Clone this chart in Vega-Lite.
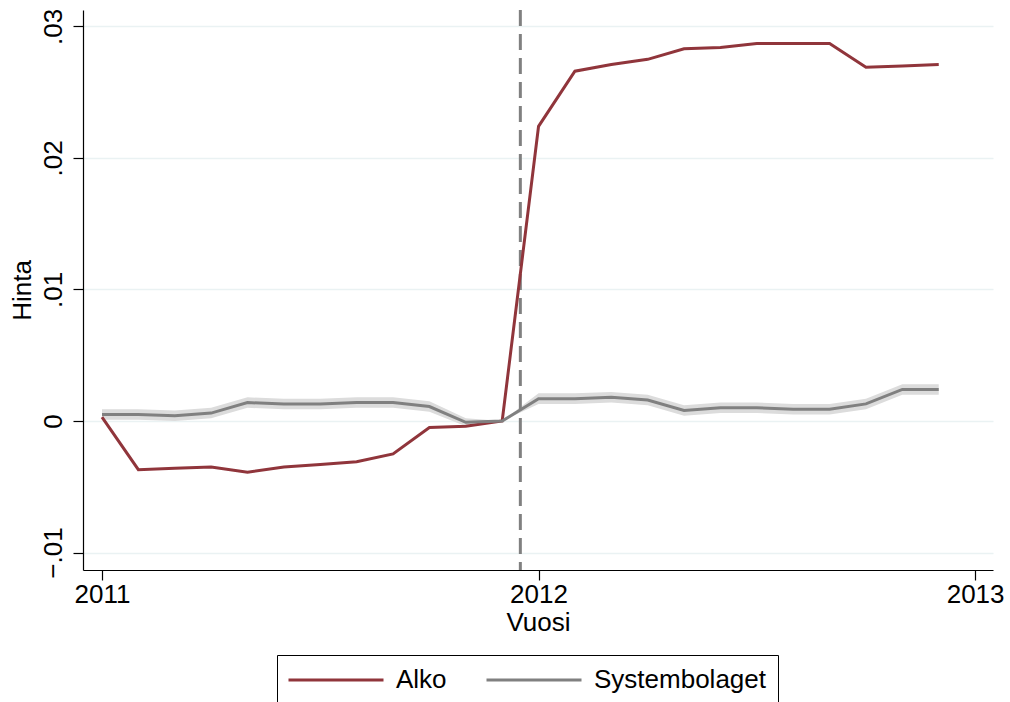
{
  "$schema": "https://vega.github.io/schema/vega-lite/v6.json",
  "width": 910,
  "height": 560,
  "autosize": {"type": "none"},
  "padding": {"left": 83, "top": 10, "right": 17, "bottom": 132},
  "background": "white",
  "config": {
    "view": {"stroke": null},
    "font": "Liberation Sans",
    "axis": {
      "labelFont": "Liberation Sans",
      "titleFont": "Liberation Sans",
      "labelFontSize": 26,
      "titleFontSize": 26,
      "titleFontWeight": "normal",
      "labelColor": "#000000",
      "titleColor": "#000000",
      "domainColor": "#000000",
      "tickColor": "#000000",
      "domainWidth": 1.2,
      "tickWidth": 1.2,
      "tickSize": 10,
      "labelOverlap": false
    }
  },
  "datasets": {
    "series": [
      {"t": 2011.0, "series": "Alko", "value": 0.0003},
      {"t": 2011.0833, "series": "Alko", "value": -0.0037},
      {"t": 2011.1667, "series": "Alko", "value": -0.0036},
      {"t": 2011.25, "series": "Alko", "value": -0.0035},
      {"t": 2011.3333, "series": "Alko", "value": -0.0039},
      {"t": 2011.4167, "series": "Alko", "value": -0.0035},
      {"t": 2011.5, "series": "Alko", "value": -0.0033},
      {"t": 2011.5833, "series": "Alko", "value": -0.0031},
      {"t": 2011.6667, "series": "Alko", "value": -0.0025},
      {"t": 2011.75, "series": "Alko", "value": -0.0005},
      {"t": 2011.8333, "series": "Alko", "value": -0.0004},
      {"t": 2011.9167, "series": "Alko", "value": 0.0},
      {"t": 2012.0, "series": "Alko", "value": 0.0224},
      {"t": 2012.0833, "series": "Alko", "value": 0.0266},
      {"t": 2012.1667, "series": "Alko", "value": 0.0271},
      {"t": 2012.25, "series": "Alko", "value": 0.0275},
      {"t": 2012.3333, "series": "Alko", "value": 0.0283},
      {"t": 2012.4167, "series": "Alko", "value": 0.0284},
      {"t": 2012.5, "series": "Alko", "value": 0.0287},
      {"t": 2012.5833, "series": "Alko", "value": 0.0287},
      {"t": 2012.6667, "series": "Alko", "value": 0.0287},
      {"t": 2012.75, "series": "Alko", "value": 0.0269},
      {"t": 2012.8333, "series": "Alko", "value": 0.0270},
      {"t": 2012.9167, "series": "Alko", "value": 0.0271},
      {"t": 2011.0, "series": "Systembolaget", "value": 0.0005, "lo": 0.0001, "hi": 0.0009},
      {"t": 2011.0833, "series": "Systembolaget", "value": 0.0005, "lo": 0.0001, "hi": 0.0009},
      {"t": 2011.1667, "series": "Systembolaget", "value": 0.0004, "lo": 0.0, "hi": 0.0008},
      {"t": 2011.25, "series": "Systembolaget", "value": 0.0006, "lo": 0.0002, "hi": 0.001},
      {"t": 2011.3333, "series": "Systembolaget", "value": 0.0014, "lo": 0.001, "hi": 0.0018},
      {"t": 2011.4167, "series": "Systembolaget", "value": 0.0013, "lo": 0.0009, "hi": 0.0017},
      {"t": 2011.5, "series": "Systembolaget", "value": 0.0013, "lo": 0.0009, "hi": 0.0017},
      {"t": 2011.5833, "series": "Systembolaget", "value": 0.0014, "lo": 0.001, "hi": 0.0018},
      {"t": 2011.6667, "series": "Systembolaget", "value": 0.0014, "lo": 0.001, "hi": 0.0018},
      {"t": 2011.75, "series": "Systembolaget", "value": 0.0011, "lo": 0.0007, "hi": 0.0015},
      {"t": 2011.8333, "series": "Systembolaget", "value": -0.0001, "lo": -0.0004, "hi": 0.0002},
      {"t": 2011.9167, "series": "Systembolaget", "value": 0.0, "lo": 0.0, "hi": 0.0},
      {"t": 2012.0, "series": "Systembolaget", "value": 0.0017, "lo": 0.0013, "hi": 0.0021},
      {"t": 2012.0833, "series": "Systembolaget", "value": 0.0017, "lo": 0.0013, "hi": 0.0021},
      {"t": 2012.1667, "series": "Systembolaget", "value": 0.0018, "lo": 0.0014, "hi": 0.0022},
      {"t": 2012.25, "series": "Systembolaget", "value": 0.0016, "lo": 0.0012, "hi": 0.002},
      {"t": 2012.3333, "series": "Systembolaget", "value": 0.0008, "lo": 0.0004, "hi": 0.0012},
      {"t": 2012.4167, "series": "Systembolaget", "value": 0.001, "lo": 0.0006, "hi": 0.0014},
      {"t": 2012.5, "series": "Systembolaget", "value": 0.001, "lo": 0.0006, "hi": 0.0014},
      {"t": 2012.5833, "series": "Systembolaget", "value": 0.0009, "lo": 0.0005, "hi": 0.0013},
      {"t": 2012.6667, "series": "Systembolaget", "value": 0.0009, "lo": 0.0005, "hi": 0.0013},
      {"t": 2012.75, "series": "Systembolaget", "value": 0.0013, "lo": 0.0009, "hi": 0.0017},
      {"t": 2012.8333, "series": "Systembolaget", "value": 0.0024, "lo": 0.002, "hi": 0.0028},
      {"t": 2012.9167, "series": "Systembolaget", "value": 0.0024, "lo": 0.002, "hi": 0.0028}
    ],
    "event": [{"t": 2011.9583}]
  },
  "layer": [
    {
      "data": {"name": "series"},
      "transform": [{"filter": "datum.series == 'Systembolaget'"}],
      "mark": {"type": "area", "color": "#dcdcdc", "opacity": 1},
      "encoding": {
        "x": {
          "field": "t", "type": "quantitative",
          "scale": {"domain": [2010.9565, 2013.041], "nice": false, "zero": false},
          "axis": {
            "values": [2011, 2012, 2013],
            "labelExpr": "format(datum.value, '.0f')",
            "title": "Vuosi",
            "grid": false, "labelPadding": 1, "titlePadding": 2,
            "labelFlush": false
          }
        },
        "y": {
          "field": "lo", "type": "quantitative",
          "scale": {"domain": [-0.01133, 0.03125], "nice": false, "zero": false},
          "axis": {
            "values": [-0.01, 0, 0.01, 0.02, 0.03],
            "labelExpr": "datum.value == 0 ? '0' : replace(format(datum.value, '.2f'), '0.', '.')",
            "title": "Hinta",
            "labelAngle": -90, "labelAlign": "center", "labelBaseline": "bottom",
            "labelPadding": 7, "titlePadding": 5,
            "grid": true, "gridColor": "#eaf2f3", "gridWidth": 1.5
          }
        },
        "y2": {"field": "hi"}
      }
    },
    {
      "data": {"name": "event"},
      "mark": {"type": "rule", "color": "#808080", "strokeWidth": 3, "strokeDash": [16, 8]},
      "encoding": {"x": {"field": "t", "type": "quantitative"}}
    },
    {
      "data": {"name": "series"},
      "mark": {"type": "line", "strokeWidth": 3},
      "encoding": {
        "x": {"field": "t", "type": "quantitative"},
        "y": {"field": "value", "type": "quantitative"},
        "color": {
          "field": "series", "type": "nominal",
          "scale": {"domain": ["Alko", "Systembolaget"], "range": ["#90353b", "#808080"]},
          "legend": {
            "title": null,
            "orient": "none",
            "direction": "horizontal",
            "legendX": 194,
            "legendY": 645,
            "strokeColor": "#000000",
            "padding": 12,
            "symbolType": "M-5,0L5,0",
            "symbolSize": 361,
            "symbolOffset": 34,
            "symbolStrokeWidth": 3,
            "labelFont": "Liberation Sans",
            "labelFontSize": 26,
            "labelColor": "#000000",
            "labelOffset": 47,
            "columnPadding": 33,
            "labelLimit": 400
          }
        }
      }
    }
  ]
}
